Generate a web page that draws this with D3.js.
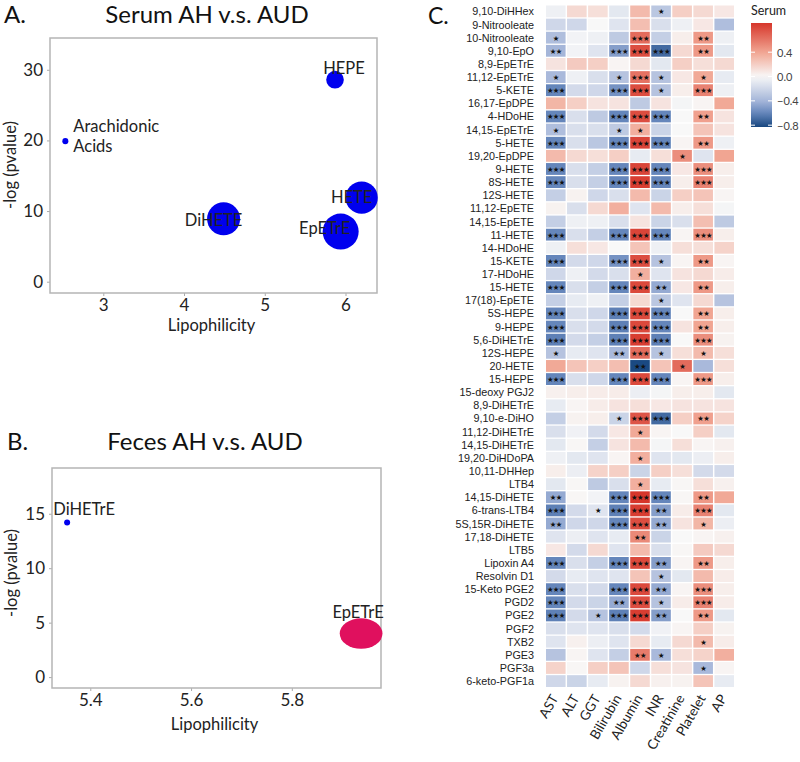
<!DOCTYPE html>
<html><head><meta charset="utf-8">
<script src="https://cdn.jsdelivr.net/npm/d3@7"></script>
<style>body{margin:0;background:#fff} svg{display:block}</style>
</head><body>
<svg id="c" width="800" height="762"></svg>
<script>
// ---------- Panel A data ----------
const aNames = ["Arachidonic Acids", "DiHETE", "HEPE", "HETE", "EpETrE"];
const aLipo = [2.53, 4.49, 5.87, 6.20, 5.94];
const aLogP = [19.9, 8.9, 28.6, 11.9, 7.1];
const aSize = [0.7, 21, 6, 20, 25];
const aXTicks = [3, 4, 5, 6];
const aYTicks = [0, 10, 20, 30];

// ---------- Panel B data ----------
const bNames = ["DiHETrE", "EpETrE"];
const bLipo = [5.354, 5.9375];
const bLogP = [14.2, 4.0];
const bSize = [0.7, 18];
const bXTicks = [5.4, 5.6, 5.8];
const bYTicks = [0, 5, 10, 15];

// ---------- Panel C data ----------
const rowNames = ["9,10-DiHHex","9-Nitrooleate","10-Nitrooleate","9,10-EpO","8,9-EpETrE","11,12-EpETrE","5-KETE","16,17-EpDPE","4-HDoHE","14,15-EpETrE","5-HETE","19,20-EpDPE","9-HETE","8S-HETE","12S-HETE","11,12-EpETE","14,15-EpETE","11-HETE","14-HDoHE","15-KETE","17-HDoHE","15-HETE","17(18)-EpETE","5S-HEPE","9-HEPE","5,6-DiHETrE","12S-HEPE","20-HETE","15-HEPE","15-deoxy PGJ2","8,9-DiHETrE","9,10-e-DiHO","11,12-DiHETrE","14,15-DiHETrE","19,20-DiHDoPA","10,11-DHHep","LTB4","14,15-DiHETE","6-trans-LTB4","5S,15R-DiHETE","17,18-DiHETE","LTB5","Lipoxin A4","Resolvin D1","15-Keto PGE2","PGD2","PGE2","PGF2","TXB2","PGE3","PGF3a","6-keto-PGF1a"];
const colNames = ["AST","ALT","GGT","Bilirubin","Albumin","INR","Creatinine","Platelet","AP"];
const corr = [
[-0.05,0.15,0.12,-0.1,0.3,-0.3,0.2,0.15,0.08],
[-0.2,-0.2,0.0,-0.12,0.28,-0.15,-0.05,0.08,-0.35],
[-0.35,-0.03,-0.05,-0.28,0.65,-0.25,0.05,0.45,-0.05],
[-0.4,-0.03,-0.12,-0.5,0.78,-0.7,0.15,0.45,-0.1],
[0.1,0.22,0.2,0.02,0.15,-0.1,0.2,0.12,0.15],
[-0.38,-0.05,-0.15,-0.32,0.62,-0.32,0.08,0.38,-0.08],
[-0.6,-0.18,-0.2,-0.55,0.78,-0.32,0.05,0.55,-0.05],
[0.32,0.2,0.1,0.1,-0.28,0.1,-0.02,0.02,0.38],
[-0.6,-0.15,-0.28,-0.6,0.78,-0.6,0.0,0.42,0.1],
[-0.35,-0.15,-0.15,-0.28,0.35,-0.22,0.0,0.25,0.1],
[-0.6,-0.15,-0.3,-0.6,0.82,-0.6,0.02,0.45,-0.05],
[0.3,0.15,0.12,0.2,-0.08,0.12,0.5,-0.12,0.4],
[-0.6,-0.15,-0.25,-0.6,0.82,-0.6,0.08,0.5,0.05],
[-0.6,-0.15,-0.25,-0.6,0.85,-0.6,0.05,0.55,0.05],
[-0.25,0.03,-0.2,-0.15,0.3,-0.22,0.2,0.25,0.02],
[0.03,-0.15,0.15,0.35,-0.12,0.3,0.05,0.12,-0.02],
[-0.25,-0.05,-0.05,-0.15,0.1,-0.22,-0.15,0.28,-0.28],
[-0.6,-0.15,-0.25,-0.6,0.82,-0.6,0.02,0.5,0.05],
[-0.05,0.12,0.08,0.0,0.25,-0.05,0.12,0.12,0.18],
[-0.6,-0.18,-0.2,-0.55,0.78,-0.32,0.02,0.45,0.02],
[-0.2,-0.05,-0.18,-0.15,0.35,-0.12,0.1,0.15,0.06],
[-0.6,-0.15,-0.25,-0.6,0.8,-0.45,0.08,0.45,0.05],
[-0.25,-0.08,-0.05,-0.25,0.15,-0.3,-0.12,0.15,-0.32],
[-0.6,-0.15,-0.2,-0.62,0.8,-0.6,0.0,0.4,0.05],
[-0.6,-0.15,-0.18,-0.62,0.8,-0.6,0.1,0.4,0.05],
[-0.62,-0.18,-0.25,-0.62,0.85,-0.62,0.0,0.5,0.03],
[-0.32,-0.08,-0.12,-0.38,0.65,-0.32,0.12,0.3,0.12],
[0.38,0.25,0.2,0.28,-0.82,0.25,0.65,-0.38,0.12],
[-0.6,-0.15,-0.2,-0.6,0.8,-0.6,0.02,0.45,0.05],
[0.04,0.05,0.06,0.06,-0.06,-0.02,0.05,0.05,-0.1],
[-0.08,0.02,0.06,0.1,0.12,0.08,0.1,0.1,0.1],
[-0.25,0.03,0.05,-0.22,0.75,-0.7,0.2,0.42,0.18],
[-0.15,-0.04,-0.18,0.08,0.38,0.02,0.0,0.2,-0.1],
[-0.1,0.01,-0.25,0.1,0.3,-0.02,0.12,0.02,0.04],
[-0.05,-0.1,-0.12,0.02,0.35,-0.12,-0.1,-0.06,0.05],
[0.05,-0.06,0.18,0.2,-0.22,0.2,0.12,-0.18,-0.18],
[-0.1,0.01,-0.28,-0.15,0.35,-0.08,0.01,0.12,0.04],
[-0.45,0.01,-0.03,-0.6,0.88,-0.6,0.01,0.45,0.38],
[-0.62,-0.18,-0.12,-0.62,0.85,-0.5,0.06,0.55,-0.1],
[-0.45,-0.2,-0.2,-0.6,0.78,-0.45,0.1,0.32,-0.06],
[-0.12,-0.06,-0.12,-0.08,0.52,-0.22,0.0,0.02,0.04],
[0.08,-0.18,0.15,-0.12,0.3,-0.15,0.01,0.22,0.15],
[-0.6,-0.15,-0.25,-0.6,0.8,-0.5,0.02,0.45,0.05],
[-0.18,-0.08,-0.12,-0.12,0.25,-0.32,-0.1,0.3,0.06],
[-0.6,-0.15,-0.18,-0.6,0.8,-0.45,0.02,0.5,0.05],
[-0.6,-0.18,-0.22,-0.45,0.78,-0.32,0.06,0.55,0.06],
[-0.62,-0.18,-0.32,-0.62,0.85,-0.5,0.0,0.45,-0.1],
[-0.15,-0.12,-0.12,-0.15,-0.18,-0.04,0.02,0.2,0.03],
[-0.12,0.04,-0.06,-0.12,0.15,-0.08,0.15,0.3,0.06],
[-0.32,0.02,-0.12,-0.25,0.58,-0.38,0.12,0.18,0.35],
[0.18,0.01,0.2,0.25,-0.2,0.12,0.1,-0.38,0.02],
[-0.2,-0.22,-0.08,0.03,0.15,0.04,0.03,0.25,-0.08]
];
const stars = [
"000001000","000000000","100030020","200333020","000000000","100131010","300331030","000000000",
"300333020","100110000","300333020","000000100","300333030","300333030","000000000","000000000",
"000000000","300333030","000000000","300331020","000010000","300332020","000001000","300333020",
"300333020","300333030","100231010","000020100","300333030","000000000","000000000","000133020",
"000010000","000000000","000010000","000000000","000010000","200333020","301332030","200332010",
"000020000","000000000","300332020","000001000","300332030","300231030","301332020","000000000",
"000000010","000021000","000000010","000000000"
];
const legendTicks = [0.4, 0.0, -0.4, -0.8];

// ---------- drawing ----------
const svg = d3.select("#c");
const SANS = "Lato, 'Open Sans', sans-serif";

function scatterPanel(o) {
  const g = svg.append("g");
  const x = d3.scaleLinear(o.xDom, [o.left, o.right]);
  const y = d3.scaleLinear(o.yDom, [o.bottom, o.top]);
  const r = d3.scaleSqrt([0, 25], [0, 18]);
  g.append("text").attr("x", o.letterX).attr("y", o.titleY).text(o.letter)
    .attr("font-family", SANS).attr("font-size", 24).attr("fill", "#111");
  g.append("text").attr("x", o.titleX).attr("y", o.titleY).text(o.title)
    .attr("text-anchor", "middle").attr("font-family", SANS).attr("font-size", 24).attr("fill", "#111");
  const xa = g.append("g").attr("transform", `translate(0,${o.bottom})`)
    .call(d3.axisBottom(x).tickValues(o.xTicks).tickSize(3).tickPadding(3).tickFormat(o.xFmt));
  const ya = g.append("g").attr("transform", `translate(${o.left},0)`)
    .call(d3.axisLeft(y).tickValues(o.yTicks).tickSize(3).tickPadding(4));
  [xa, ya].forEach(a => {
    a.select(".domain").remove();
    a.selectAll("line").attr("stroke", "#aaa");
    a.selectAll("text").attr("font-family", SANS).attr("font-size", 17).attr("fill", "#222");
  });
  g.append("rect").attr("x", o.left).attr("y", o.top).attr("width", o.right - o.left)
    .attr("height", o.bottom - o.top).attr("fill", "none").attr("stroke", "#b5b5b5").attr("stroke-width", 1.5);
  g.append("text").attr("x", (o.left + o.right) / 2 - 2).attr("y", o.xTitleY).text("Lipophilicity")
    .attr("text-anchor", "middle").attr("font-family", SANS).attr("font-size", 16.5).attr("fill", "#222");
  g.append("text").attr("transform", `translate(${o.yTitleX},${o.yTitleY}) rotate(-90)`).text("-log (pvalue)")
    .attr("text-anchor", "middle").attr("font-family", SANS).attr("font-size", 16.5).attr("fill", "#222");
  o.names.forEach((n, i) => {
    const cx = x(o.lipo[i]), cy = y(o.logp[i]), rr = r(o.size[i]);
    g.append("ellipse").attr("cx", cx).attr("cy", cy).attr("rx", rr * o.stretch[i]).attr("ry", rr)
      .attr("fill", o.colors[i]);
    const lines = o.labelLines[i];
    const t = g.append("text").attr("font-family", SANS).attr("font-size", 16.5).attr("fill", "#222")
      .attr("text-anchor", o.anchor[i]);
    lines.forEach((ln, k) => {
      t.append("tspan").attr("x", cx + o.dx[i]).attr("y", cy + o.dy[i] + k * 20).text(ln);
    });
  });
}

scatterPanel({
  left: 50, right: 377, top: 38, bottom: 293,
  xDom: [2.34, 6.39], yDom: [-1.6, 34.5], xTicks: aXTicks, yTicks: aYTicks, xFmt: d3.format("d"),
  letter: "A.", letterX: 4, title: "Serum AH v.s. AUD", titleX: 207, titleY: 23,
  xTitleY: 330.5, yTitleX: 16, yTitleY: 165,
  names: aNames, lipo: aLipo, logp: aLogP, size: aSize,
  colors: ["#0000ee", "#0000ee", "#0000ee", "#0000ee", "#0000ee"], stretch: [1, 1, 1, 1, 1],
  labelLines: [["Arachidonic", "Acids"], ["DiHETE"], ["HEPE"], ["HETE"], ["EpETrE"]],
  anchor: ["start", "middle", "middle", "middle", "middle"],
  dx: [8, -10, 9, -10, -16], dy: [-9, 7, -6, 5, 2]
});

scatterPanel({
  left: 52, right: 381, top: 468, bottom: 688,
  xDom: [5.324, 5.977], yDom: [-1.0, 19.2], xTicks: bXTicks, yTicks: bYTicks, xFmt: d3.format(".1f"),
  letter: "B.", letterX: 7, title: "Feces AH v.s. AUD", titleX: 205, titleY: 450,
  xTitleY: 730, yTitleX: 17, yTitleY: 573,
  names: bNames, lipo: bLipo, logp: bLogP, size: bSize,
  colors: ["#0000ee", "#e0105e"], stretch: [1, 1.4],
  labelLines: [["DiHETrE"], ["EpETrE"]],
  anchor: ["middle", "middle"],
  dx: [17, -3, 0], dy: [-7, -16]
});

// ---------- Panel C heatmap ----------
const gc = svg.append("g");
gc.append("text").attr("x", 428).attr("y", 24).text("C.")
  .attr("font-family", SANS).attr("font-size", 23).attr("fill", "#111");
const xC = d3.scaleBand(colNames, [546, 734]).paddingInner(0.07);
const yC = d3.scaleBand(rowNames, [5.5, 687]).paddingInner(0.1);
const color = d3.scaleLinear().domain([-0.83, -0.6, -0.4, 0, 0.4, 0.88])
  .range(["#17467f", "#6586bb", "#a5b6d9", "#f8f8f8", "#f1a592", "#d6362b"]).clamp(true);

rowNames.forEach((rn, i) => {
  colNames.forEach((cn, j) => {
    gc.append("rect").attr("x", xC(cn)).attr("y", yC(rn)).attr("width", xC.bandwidth())
      .attr("height", yC.bandwidth()).attr("fill", color(corr[i][j]));
    const n = +stars[i][j];
    if (n > 0) {
      gc.append("text").attr("x", xC(cn) + xC.bandwidth() / 2).attr("y", yC(rn) + yC.bandwidth() / 2 + 0.5)
        .attr("text-anchor", "middle").attr("dominant-baseline", "central")
        .attr("font-family", "DejaVu Sans").attr("font-size", 7.3).attr("letter-spacing", -0.6)
        .attr("fill", "#111").text("★".repeat(n));
    }
  });
  gc.append("text").attr("x", 534).attr("y", yC(rn) + yC.bandwidth() / 2)
    .attr("text-anchor", "end").attr("dominant-baseline", "central")
    .attr("font-family", "'Liberation Sans', Arial, sans-serif").attr("font-size", 10.8)
    .attr("fill", "#222").text(rn);
});
colNames.forEach(cn => {
  gc.append("text").attr("transform", `translate(${xC(cn) + xC.bandwidth() / 2 + 3},698) rotate(-60)`)
    .attr("text-anchor", "end").attr("font-family", SANS).attr("font-size", 13.5)
    .attr("fill", "#222").text(cn);
});

// legend
const ly = d3.scaleLinear([-0.83, 0.88], [127, 23]);
const defs = svg.append("defs");
const grad = defs.append("linearGradient").attr("id", "lg").attr("x1", 0).attr("y1", 1).attr("x2", 0).attr("y2", 0);
d3.range(0, 1.0001, 0.05).forEach(t => {
  const v = -0.83 + t * (0.88 + 0.83);
  grad.append("stop").attr("offset", t).attr("stop-color", color(v));
});
gc.append("text").attr("x", 751).attr("y", 15).text("Serum")
  .attr("font-family", SANS).attr("font-size", 12.5).attr("fill", "#222");
gc.append("rect").attr("x", 751).attr("y", 23).attr("width", 21).attr("height", 104).attr("fill", "url(#lg)");
legendTicks.forEach(v => {
  gc.append("line").attr("x1", 751).attr("x2", 755).attr("y1", ly(v)).attr("y2", ly(v)).attr("stroke", "#fff").attr("stroke-width", 1);
  gc.append("line").attr("x1", 768).attr("x2", 772).attr("y1", ly(v)).attr("y2", ly(v)).attr("stroke", "#fff").attr("stroke-width", 1);
  gc.append("text").attr("x", 777).attr("y", ly(v)).attr("dominant-baseline", "central")
    .attr("font-family", SANS).attr("font-size", 11).attr("fill", "#444").text(d3.format(".1f")(v));
});
</script></body></html>
